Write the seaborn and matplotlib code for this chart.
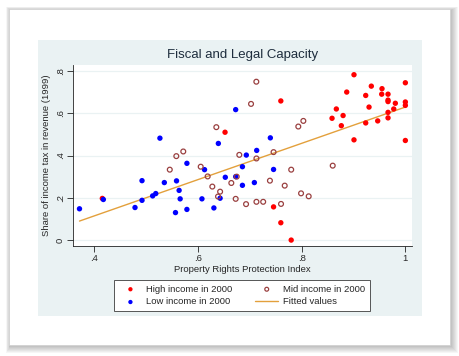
import numpy as np
import pandas as pd
import seaborn as sns
import matplotlib.pyplot as plt
from matplotlib.patches import Rectangle

# Puntos (indice de derechos de propiedad, participacion del impuesto)
high_x = [0.416, 0.6525, 0.760, 0.746, 0.760, 0.780, 0.8587, 0.867, 0.8766, 0.880,
          0.887, 0.901, 0.901, 0.9236, 0.9236, 0.930, 0.9344, 0.9467, 0.9544, 0.955,
          0.9666, 0.9666, 0.9666, 0.9666, 0.9666, 0.9776, 0.9807, 1.0, 1.0, 1.0, 1.0]
high_y = [0.197, 0.51, 0.658, 0.157, 0.082, 0.0, 0.576, 0.62, 0.541, 0.589,
          0.70, 0.782, 0.474, 0.684, 0.554, 0.629, 0.728, 0.5636, 0.69, 0.716,
          0.69, 0.662, 0.655, 0.604, 0.578, 0.62, 0.647, 0.744, 0.653, 0.637, 0.471]

low_x = [0.372, 0.418, 0.479, 0.4925, 0.4925, 0.513, 0.519, 0.527, 0.5355, 0.559,
         0.564, 0.557, 0.566, 0.579, 0.579, 0.608, 0.613, 0.631, 0.6396, 0.643,
         0.653, 0.673, 0.673, 0.686, 0.686, 0.6935, 0.7135, 0.709, 0.7398, 0.746]
low_y = [0.148, 0.192, 0.154, 0.281, 0.188, 0.209, 0.22, 0.482, 0.272, 0.28,
         0.235, 0.13, 0.195, 0.363, 0.145, 0.195, 0.333, 0.152, 0.457, 0.198,
         0.297, 0.617, 0.30, 0.347, 0.259, 0.402, 0.424, 0.272, 0.4835, 0.334]

mid_x = [0.546, 0.5586, 0.572, 0.6056, 0.619, 0.628, 0.6357, 0.639, 0.643, 0.6646,
         0.673, 0.675, 0.68, 0.693, 0.7026, 0.7128, 0.713, 0.713, 0.726, 0.739,
         0.746, 0.7604, 0.7675, 0.78, 0.7937, 0.8034, 0.799, 0.8137, 0.86]
mid_y = [0.333, 0.397, 0.419, 0.347, 0.301, 0.253, 0.534, 0.206, 0.229, 0.27,
         0.195, 0.30, 0.403, 0.17, 0.644, 0.749, 0.386, 0.181, 0.181, 0.281,
         0.416, 0.171, 0.2575, 0.333, 0.537, 0.5636, 0.221, 0.207, 0.352]

x_ticks = [0.4, 0.6, 0.8, 1.0]
x_labels = ['.4', '.6', '.8', '1']
y_ticks = [0, 0.2, 0.4, 0.6, 0.8]
y_labels = ['0', '.2', '.4', '.6', '.8']

sns.set_style("white")
plt.rcParams['font.family'] = ['Liberation Sans', 'DejaVu Sans']

W, H = 460, 356
fig = plt.figure(figsize=(W / 100, H / 100), dpi=100)
fig.patch.set_facecolor('white')


def caja(x0, y0, x1, y1, **kw):
    # rectangulo en pixeles medidos desde arriba a la izquierda
    r = Rectangle((x0 / W, 1 - y1 / H), (x1 - x0) / W, (y1 - y0) / H,
                  transform=fig.transFigure, **kw)
    fig.patches.append(r)


# sombra de la tarjeta
for i in range(8, 0, -1):
    caja(9 - i * 0.5 + 1.5, 9 - i * 0.5 + 1.5, 450 + i, 345 + i,
         facecolor='black', edgecolor='none', alpha=0.035, zorder=0)
caja(9, 9, 450, 345, facecolor='white', edgecolor='#d0d0d0', linewidth=0.5, zorder=1)
caja(38, 40, 422, 316, facecolor='#EAF2F3', edgecolor='none', zorder=2)

ax = fig.add_axes([73 / W, 1 - 246 / H, (412 - 73) / W, (246 - 65) / H])
ax.set_zorder(3)
ax.set_facecolor('white')

rojo, azul, granate, naranja = '#FF0000', '#0000FF', '#9A4040', '#E3A03C'

sns.scatterplot(x=high_x, y=high_y, color=rojo, edgecolor='none', s=15,
                ax=ax, label='High income in 2000', zorder=3)
sns.scatterplot(x=low_x, y=low_y, color=azul, edgecolor='none', s=15,
                ax=ax, label='Low income in 2000', zorder=3)
sns.scatterplot(x=mid_x, y=mid_y, color=granate, facecolors='none', edgecolor=granate,
                linewidth=0.9, s=12, ax=ax, label='Mid income in 2000', zorder=3)

# recta ajustada por minimos cuadrados
all_x = np.array(high_x + low_x + mid_x)
all_y = np.array(high_y + low_y + mid_y)
b, a = np.polyfit(all_x, all_y, 1)
xf = np.array([all_x.min(), all_x.max()])
sns.lineplot(x=xf, y=a + b * xf, color=naranja, linewidth=1.0, ax=ax,
             label='Fitted values', zorder=2)

ax.set_xlim(0.3595, 1.0128)
ax.set_ylim(-0.028, 0.828)
ax.set_xticks(x_ticks)
ax.set_xticklabels(x_labels)
ax.set_yticks(y_ticks)
ax.set_yticklabels(y_labels, rotation=90, va='center')
ax.yaxis.grid(True, color='#EAF2F3', linewidth=0.9)
ax.xaxis.grid(False)
ax.set_axisbelow(True)

for s in ['top', 'right']:
    ax.spines[s].set_visible(False)
for s in ['left', 'bottom']:
    ax.spines[s].set_color('#222222')
    ax.spines[s].set_linewidth(0.6)
ax.tick_params(direction='out', length=4, width=0.6, color='#222222',
               labelsize=6.8, pad=2, left=True, bottom=True)

ax.set_xlabel('Property Rights Protection Index', fontsize=6.8, labelpad=1.5)
ax.set_ylabel('Share of income tax in revenue (1999)', fontsize=6.8, labelpad=3)
ax.set_title('Fiscal and Legal Capacity', fontsize=9.5, color='#1e2d3d', pad=5)

h, l = ax.get_legend_handles_labels()
orden = [l.index('High income in 2000'), l.index('Low income in 2000'),
         l.index('Mid income in 2000'), l.index('Fitted values')]
ax.legend([h[i] for i in orden], [l[i] for i in orden], ncol=2,
          loc='upper center', bbox_to_anchor=(242 / W, 1 - 280 / H),
          bbox_transform=fig.transFigure, fontsize=6.8, frameon=True,
          fancybox=False, edgecolor='#555555', framealpha=1,
          borderpad=0.5, labelspacing=0.4, handlelength=2.4, handletextpad=0.5,
          columnspacing=2.4, borderaxespad=0, markerscale=0.8)
ax.get_legend().get_frame().set_linewidth(0.7)

plt.savefig('out.png', dpi=100)
